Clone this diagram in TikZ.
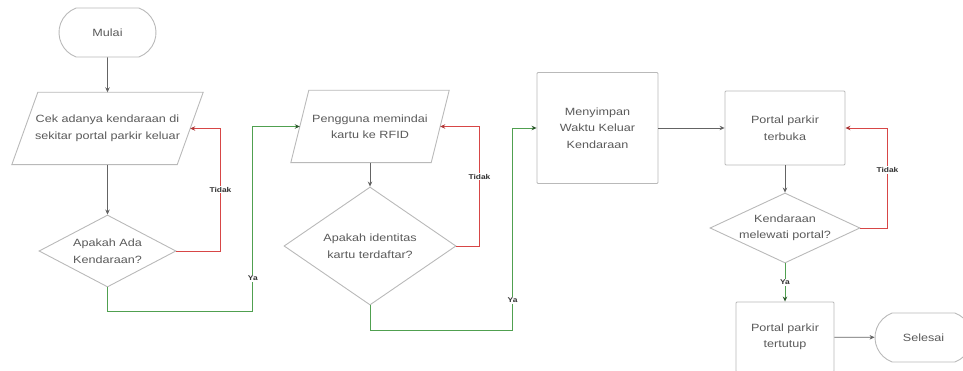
\documentclass[tikz,border=0pt]{standalone}
\usepackage{fontspec}
\setmainfont{Liberation Sans}[FakeStretch=1.2]
\usepackage{tikz}
\usetikzlibrary{arrows.meta,shapes.geometric,shapes.misc}

\definecolor{garisabu}{RGB}{185,185,185}
\definecolor{panahabu}{RGB}{100,100,100}
\definecolor{teksabu}{RGB}{90,90,90}
\definecolor{hijau}{RGB}{80,160,80}
\definecolor{merah}{RGB}{215,70,70}

\begin{document}
\begin{tikzpicture}[x=1pt, y=-1pt,
  box/.style={text=teksabu, align=center, font=\fontsize{10.5}{16.5}\selectfont, inner sep=0pt},
  ujung/.style={box, draw=garisabu, line width=0.9pt, rounded rectangle, rounded rectangle arc length=140, minimum width=97pt, minimum height=49pt},
  proses/.style={box, draw=garisabu, line width=0.9pt, rectangle, rounded corners=1pt},
  data/.style={box, rectangle, minimum height=72pt},
  keputusan/.style={draw=garisabu, line width=0.9pt, diamond, inner sep=0pt},
  alur/.style={-{Stealth[length=5pt,width=4.5pt]}, draw=panahabu, line width=0.7pt},
  ya/.style={-{Stealth[length=5pt,width=4.5pt,color=hijau!55!black]}, draw=hijau, line width=0.9pt},
  tidak/.style={-{Stealth[length=5pt,width=4.5pt,color=merah!80!black]}, draw=merah, line width=0.9pt},
  ket/.style={fill=white, inner sep=1pt, text=black!80, font=\fontsize{7}{8}\selectfont\bfseries}]
  \useasboundingbox (0,0) rectangle (963,371);
  \clip (0,0) rectangle (963,371);

  % Nodes
  \node[ujung] (mulai) at (107.5,32.5) {Mulai};
  \node[data, minimum width=165pt] (cek) at (107.5,128.5) {Cek adanya kendaraan di\\sekitar portal parkir keluar};
  \node[keputusan, minimum width=137pt, minimum height=72pt,
        label={[box]center:Apakah Ada\\Kendaraan?}] (adakah) at (107.5,251) {};
  \node[data, minimum width=140pt] (pindai) at (370,126.5) {Pengguna memindai\\kartu ke RFID};
  \node[keputusan, minimum width=172pt, minimum height=118pt,
        label={[box]center:Apakah identitas\\kartu terdaftar?}] (terdaftar) at (370,246) {};
  \node[proses, minimum width=121pt, minimum height=111pt] (simpan) at (597.5,128) {Menyimpan\\Waktu Keluar\\Kendaraan};
  \node[proses, minimum width=120pt, minimum height=74pt] (buka) at (785,128) {Portal parkir\\terbuka};
  \node[keputusan, minimum width=150pt, minimum height=70pt,
        label={[box]center:Kendaraan\\melewati portal?}] (lewat) at (785,228) {};
  \node[proses, minimum width=98pt, minimum height=70pt] (tutup) at (785,337) {Portal parkir\\tertutup};
  \node[ujung] (selesai) at (923.5,337.5) {Selesai};

  % Input/output boxes (slanted sides)
  \foreach \n/\s in {cek/13, pindai/9} {
    \draw[garisabu, line width=0.9pt] ([xshift=\s pt]\n.north west) -- ([xshift=\s pt]\n.north east)
      -- ([xshift=-\s pt]\n.south east) -- ([xshift=-\s pt]\n.south west) -- cycle;
  }

  % Flow
  \draw[alur] (mulai) -- (cek);
  \draw[alur] (cek) -- (adakah);
  \draw[tidak] (adakah.east) -- ++(44,0) |- (cek.east) node[ket, pos=0.25] {Tidak};
  \draw[ya] (adakah.south) -- ++(0,24) -| ([xshift=-47pt]pindai.west) node[ket, pos=0.59] {Ya} -- (pindai.west);
  \draw[alur] (pindai) -- (terdaftar);
  \draw[tidak] (terdaftar.east) -- ++(23,0) |- (pindai.east) node[ket, pos=0.29] {Tidak};
  \draw[ya] (terdaftar.south) -- ++(0,25) -| ([xshift=-24pt]simpan.west) node[ket, pos=0.575] {Ya} -- (simpan.west);
  \draw[alur] (simpan) -- (buka);
  \draw[alur] (buka) -- (lewat);
  \draw[tidak] (lewat.east) -- ++(27,0) |- (buka.east) node[ket, pos=0.29] {Tidak};
  \draw[ya] (lewat) -- (tutup) node[ket, midway] {Ya};
  \draw[alur] (tutup) -- (selesai);
\end{tikzpicture}
\end{document}
